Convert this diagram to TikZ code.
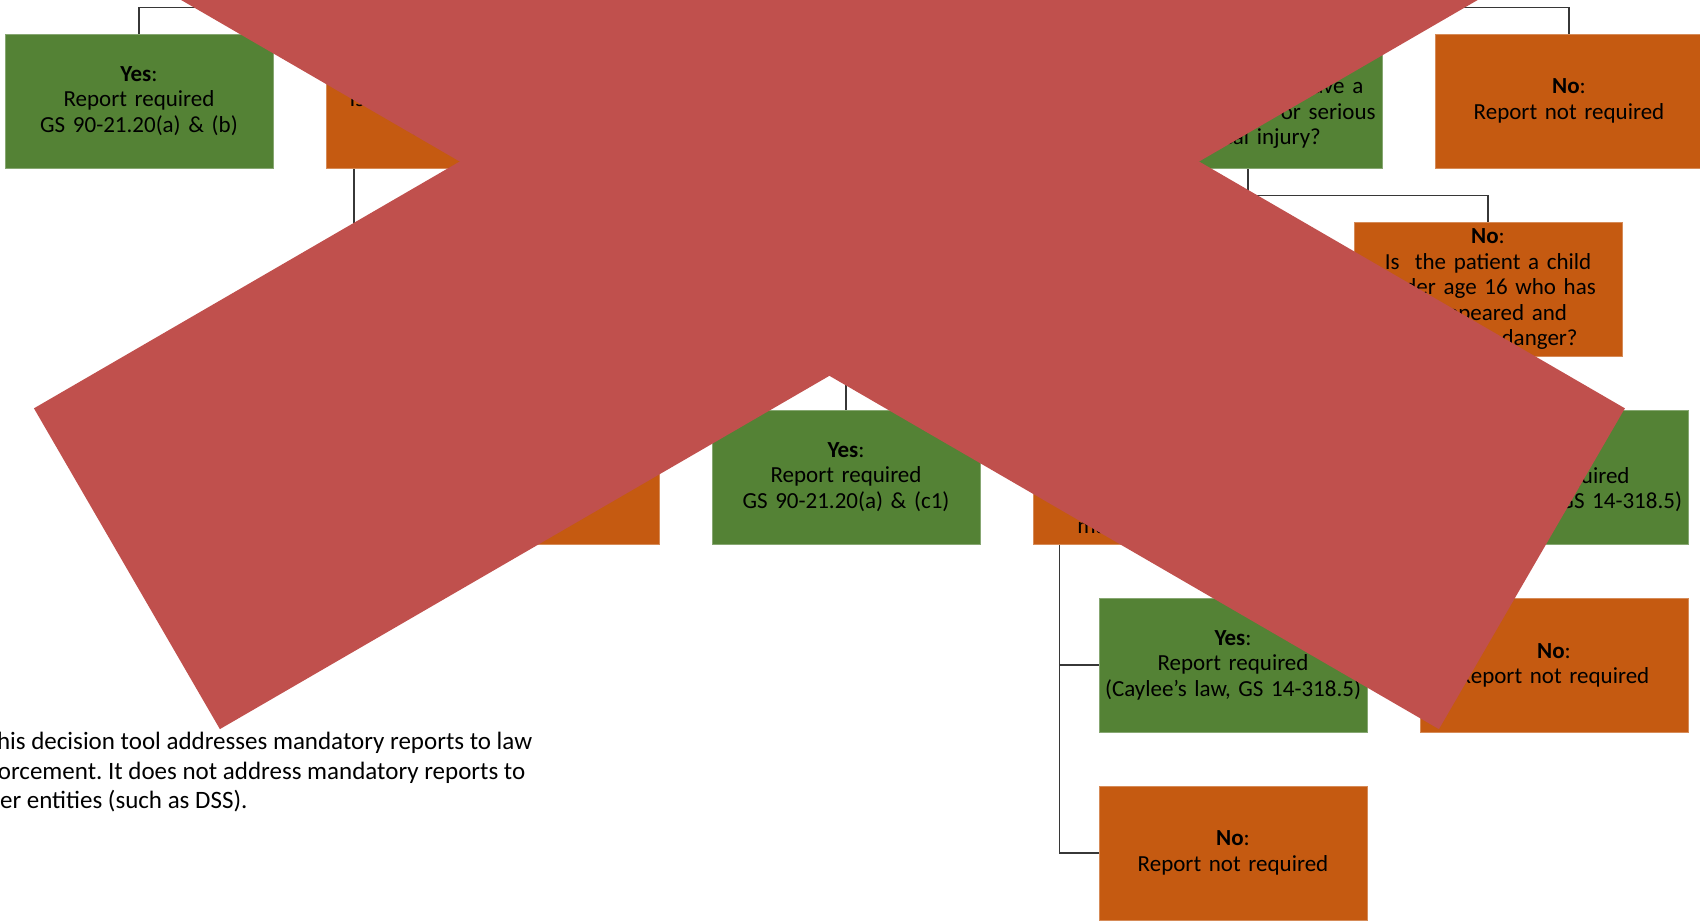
\documentclass[tikz,border=0pt]{standalone}
\usepackage{fontspec}
\setmainfont{Carlito}
\usetikzlibrary{positioning}
\definecolor{boxgreen}{RGB}{84,130,53}
\definecolor{boxorange}{RGB}{197,90,17}
\definecolor{crossred}{RGB}{192,80,77}
\definecolor{linkgray}{RGB}{55,55,55}
\pgfdeclarelayer{background}
\pgfsetlayers{background,main}
\frenchspacing
\newcommand{\yeslabel}{\textbf{Yes}:}
\newcommand{\nolabel}{\textbf{No}:}
\begin{document}
\begin{tikzpicture}[
            x=0.5pt, y=-0.5pt,
            every node/.style={on grid},
            box/.style={rectangle, minimum width=134pt, minimum height=67pt, text width=130pt, inner sep=2pt, align=center, font=\fontsize{11.5pt}{12.75pt}\selectfont},
            yesbox/.style={box, fill=boxgreen, draw=boxgreen!70!white},
            nobox/.style={box, fill=boxorange, draw=boxorange!70!white},
            note/.style={align=left, inner sep=0pt, font=\fontsize{12.5pt}{14.8pt}\selectfont},
            link/.style={draw=linkgray, line width=0.75pt},
            cross/.style={fill=crossred}
        ]
        
        % Page frame %
        \useasboundingbox (0,0) rectangle (1700,922);
        \clip (0,0) rectangle (1700,922);

        % Draw top row %
        \node[yesbox] (gun) at (139,101) {\yeslabel\\Report required\\GS 90-21.20(a) \& (b)};
        \node[nobox, right=160.5pt of gun] (minor) {\nolabel\\Is the patient a minor?\\(under 18)};
        \node[yesbox] (injury) at (1248,101) {\yeslabel\\Does the patient have a\\recurrent illness or serious\\physical injury?};
        \node[nobox, right=160.5pt of injury] (noreport1) {\nolabel\\Report not required};

        % Draw second row %
        \node[nobox] (missing1) at (1488,289.5) {\nolabel\\Is\ \ the patient a child\\under age 16 who has\\disappeared and\\may be in danger?};

        % Draw third row %
        \node[yesbox] (abuse) at (846,477) {\yeslabel\\Report required\\GS 90-21.20(a) \& (c1)};
        \node[nobox, left=160.5pt of abuse] (noreport2) {\nolabel\\Report not required};
        \node[nobox, right=160.5pt of abuse] (missing2) {\nolabel\\Is\ \ the patient a child\\under age 16 who has\\disappeared and\\may be in danger?};
        \node[yesbox, below right=94pt and 33pt of missing1] (caylee1) {\yeslabel\\Report required\\(Caylee’s law, GS 14-318.5)};

        % Draw lower rows %
        \node[nobox, below=94pt of caylee1] (noreport3) {\nolabel\\Report not required};
        \node[yesbox, below right=94pt and 33pt of missing2] (caylee2) {\yeslabel\\Report required\\(Caylee’s law, GS 14-318.5)};
        \node[nobox, below=94pt of caylee2] (noreport4) {\nolabel\\Report not required};

        % Note %
        \node[note, anchor=north west] (scope) at (-35,732) {\hspace*{9.75pt}This decision tool addresses mandatory reports to law\\enforcement. It does not address mandatory reports to\\other entities (such as DSS).};

        % Draw connectors %
        \begin{pgfonlayer}{background}
            \draw[link] (gun.north) -- ++(0,-26) -| (noreport1.north);
            \draw[link] ([xshift=14.25pt]minor.south west) |- (noreport2.west);
            \draw[link] (injury.south) -- ++(0,27) coordinate (fork) -| (missing1.north);
            \draw[link] (fork) -| (abuse.north);
            \draw[link] ([xshift=13.5pt]missing1.south west) |- (caylee1.west);
            \draw[link] ([xshift=13.5pt]missing1.south west) |- (noreport3.west);
            \draw[link] ([xshift=13.5pt]missing2.south west) |- (caylee2.west);
            \draw[link] ([xshift=13.5pt]missing2.south west) |- (noreport4.west);
        \end{pgfonlayer}

        % Cross %
        \coordinate (xmid) at (829.4,161.5);
        \fill[cross, shift={(xmid)}, rotate=-30.1] (-812,-185.4) rectangle (812,185.4);
        \fill[cross, shift={(xmid)}, rotate=30.1] (-812,-185.4) rectangle (812,185.4);
        \end{tikzpicture}
\end{document}
